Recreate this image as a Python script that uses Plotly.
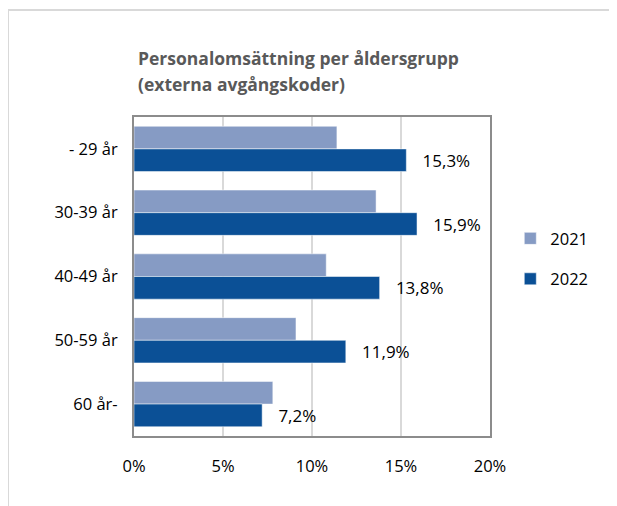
import plotly.graph_objects as go

categories = ["- 29 år", "30-39 år", "40-49 år", "50-59 år", "60 år-"]
values_2021 = [11.4, 13.6, 10.8, 9.1, 7.8]
values_2022 = [15.3, 15.9, 13.8, 11.9, 7.2]
labels_2022 = ["15,3%", "15,9%", "13,8%", "11,9%", "7,2%"]
x_ticks = [0, 5, 10, 15, 20]
x_tick_text = ["0%", "5%", "10%", "15%", "20%"]
title_lines = ["Personalomsättning per åldersgrupp", "(externa avgångskoder)"]

FONT = "Open Sans"
# page has an 8px body margin; figure is sized to fill the window
W, H = 609, 498
L, T = 126, 109
PW, PH = 356, 319
R, B = W - L - PW, H - T - PH


def px_x(x):
    return (x - L) / PW


def px_y(y):
    return (T + PH - y) / PH


fig = go.Figure()
fig.add_trace(go.Bar(
    y=categories, x=values_2021, name="2021", orientation="h",
    marker=dict(color="#869BC4", line=dict(color="white", width=0.5)),
    legendgroup="a",
))
fig.add_trace(go.Bar(
    y=categories, x=values_2022, name="2022", orientation="h",
    marker=dict(color="#0B5096", line=dict(color="white", width=0.5)),
    text=["   " + t for t in labels_2022], textposition="outside",
    textfont=dict(size=18, color="#000000", family=FONT),
    cliponaxis=False, legendgroup="b",
))

annotations = []
for i, line in enumerate(title_lines):
    annotations.append(dict(
        text="<b>" + line + "</b>", xref="paper", yref="paper",
        x=px_x(128), y=px_y(50 + 26 * i), xanchor="left", yanchor="middle",
        showarrow=False, font=dict(family=FONT, size=17.5, color="#595959"),
    ))

fig.update_layout(
    width=W, height=H,
    margin=dict(l=L, r=R, t=T, b=B),
    paper_bgcolor="white", plot_bgcolor="white",
    barmode="group", bargap=0.29, bargroupgap=0,
    font=dict(family=FONT, size=16.5, color="#000000"),
    showlegend=True,
    legend=dict(
        x=1.057, xanchor="left", y=0.556, yanchor="middle",
        tracegroupgap=16, traceorder="grouped",
        font=dict(family=FONT, size=16.5, color="#000000"),
    ),
    xaxis=dict(
        range=[0, 20], tickvals=x_ticks, ticktext=x_tick_text,
        showgrid=True, gridcolor="#D9D9D9", gridwidth=2,
        showline=True, linecolor="#8C8C8C", linewidth=2, mirror=True,
        zeroline=False, ticks="", ticklabelstandoff=14,
        tickfont=dict(family=FONT, size=16.5, color="#000000"),
    ),
    yaxis=dict(
        autorange="reversed",
        showline=True, linecolor="#8C8C8C", linewidth=2, mirror=True,
        showgrid=False, ticks="", ticklabelstandoff=11,
        tickfont=dict(family=FONT, size=16.5, color="#000000"),
    ),
    annotations=annotations,
    shapes=[
        dict(type="line", xref="paper", yref="paper",
             x0=px_x(0), x1=px_x(W + 20), y0=px_y(2), y1=px_y(2),
             line=dict(color="#D9D9D9", width=2)),
        dict(type="line", xref="paper", yref="paper",
             x0=px_x(0), x1=px_x(0), y0=px_y(2), y1=px_y(H + 20),
             line=dict(color="#D9D9D9", width=2)),
    ],
)

fig.write_html("out.html")
